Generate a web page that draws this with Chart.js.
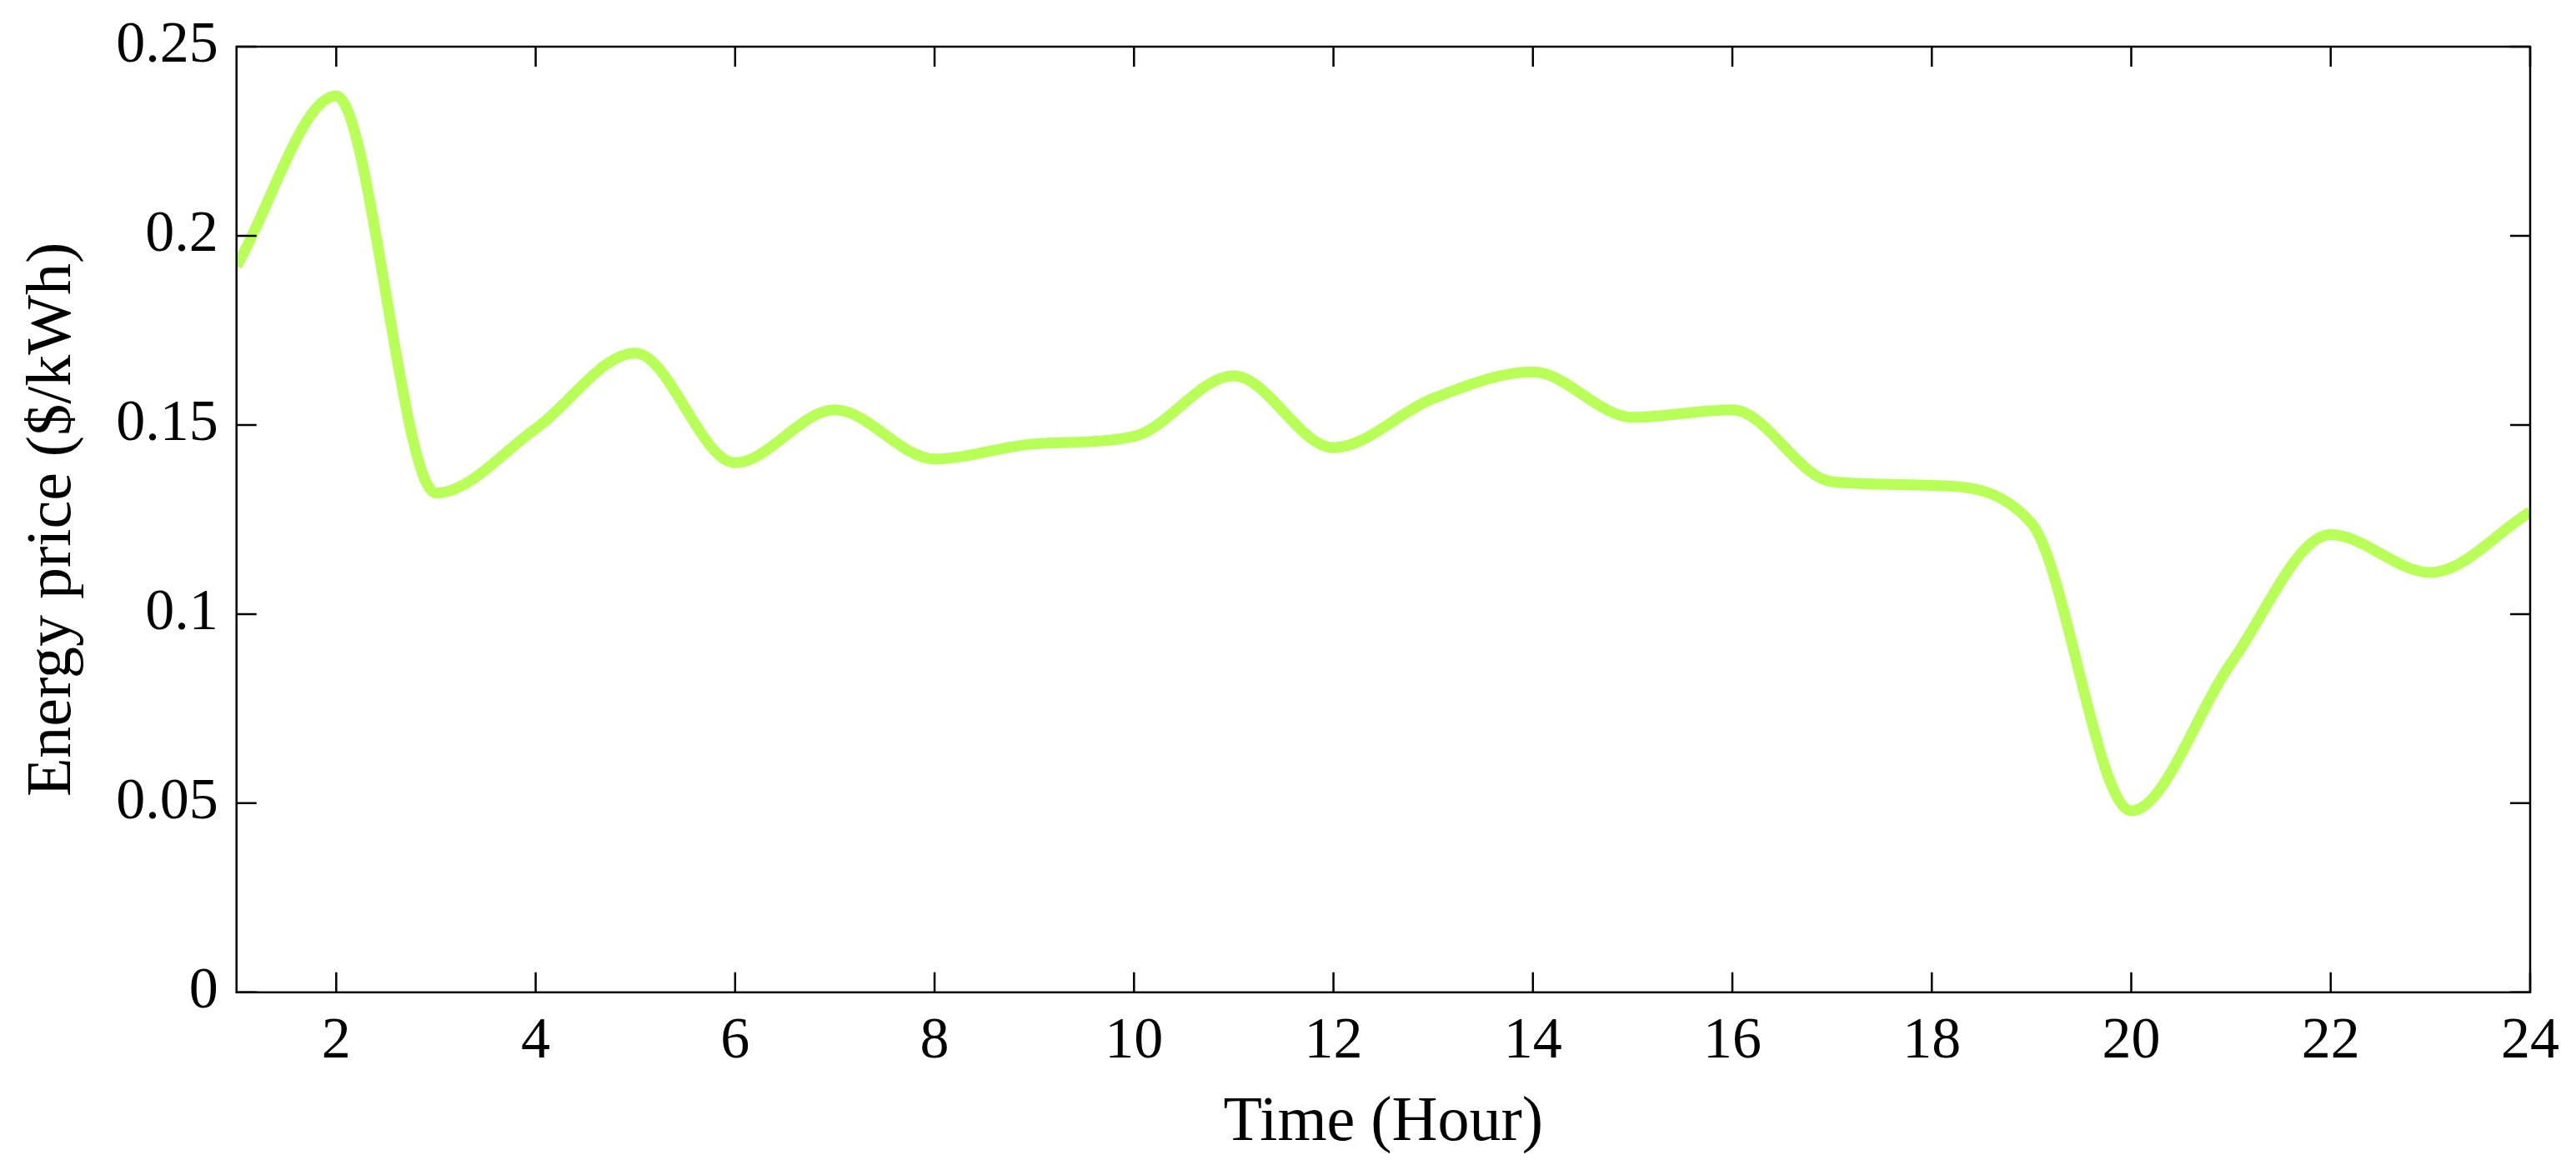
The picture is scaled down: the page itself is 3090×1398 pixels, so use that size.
<!DOCTYPE html>
<html><head><meta charset="utf-8">
<script src="https://cdn.jsdelivr.net/npm/chart.js@4/dist/chart.umd.min.js"></script>
<style>html,body{margin:0;background:#fff}#w{width:3090px;height:1398px}</style>
</head><body><div id="w"><canvas id="c"></canvas></div>
<script>
const hours=[1,2,3,4,5,6,7,8,9,10,11,12,13,14,15,16,17,18,19,20,21,22,23,24];
const prices=[0.192,0.237,0.132,0.149,0.169,0.140,0.154,0.141,0.145,0.147,0.163,0.144,0.157,0.164,0.152,0.154,0.135,0.134,0.124,0.048,0.087,0.121,0.111,0.127];
const xTicks=[2,4,6,8,10,12,14,16,18,20,22,24];
const yTicks=[0,0.05,0.1,0.15,0.2,0.25];
const F='"Liberation Serif","Times New Roman",serif';
const frame={id:'frame',afterDraw(ch){const {ctx,chartArea:a,scales:{x,y}}=ch;ctx.save();ctx.strokeStyle='#000';ctx.lineWidth=2.5;
ctx.strokeRect(a.left,a.top,a.right-a.left,a.bottom-a.top);ctx.beginPath();
xTicks.forEach(v=>{const p=x.getPixelForValue(v);ctx.moveTo(p,a.bottom);ctx.lineTo(p,a.bottom-24);ctx.moveTo(p,a.top);ctx.lineTo(p,a.top+24);});
yTicks.forEach(v=>{const p=y.getPixelForValue(v);ctx.moveTo(a.left,p);ctx.lineTo(a.left+24,p);ctx.moveTo(a.right,p);ctx.lineTo(a.right-24,p);});
ctx.stroke();ctx.restore();}};
new Chart(document.getElementById('c'),{type:'line',
data:{datasets:[{data:hours.map((h,i)=>({x:h,y:prices[i]})),borderColor:'#b8ff58',borderWidth:13,pointRadius:0,cubicInterpolationMode:'monotone'}]},
options:{responsive:true,maintainAspectRatio:false,animation:false,
layout:{padding:{top:50,right:55,left:14,bottom:4}},
plugins:{legend:{display:false},tooltip:{enabled:false}},
scales:{x:{type:'linear',min:1,max:24,afterBuildTicks(s){s.ticks=xTicks.map(v=>({value:v}));},
grid:{display:false},border:{display:false},
ticks:{color:'#000',font:{family:F,size:70},padding:10,maxRotation:0},
title:{display:true,text:'Time (Hour)',color:'#000',font:{family:F,size:76},padding:{top:0,bottom:0}}},
y:{min:0,max:0.25,afterBuildTicks(s){s.ticks=yTicks.map(v=>({value:v}));},
grid:{display:false},border:{display:false},
ticks:{color:'#000',font:{family:F,size:70},padding:14,callback:v=>String(+v.toFixed(2))},
title:{display:true,text:'Energy price ($/kWh)',color:'#000',font:{family:F,size:76},padding:{bottom:16}}}}},
plugins:[frame]});
</script></body></html>
